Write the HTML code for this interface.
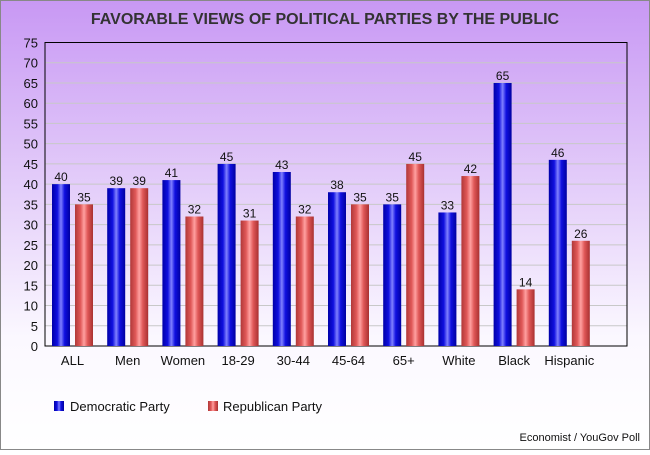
<!DOCTYPE html>
<html><head><meta charset="utf-8"><style>
html,body{margin:0;padding:0}
body{width:650px;height:450px;overflow:hidden;font-family:"Liberation Sans","DejaVu Sans",sans-serif}
</style></head><body>
<svg width="650" height="450" xmlns="http://www.w3.org/2000/svg">
<defs>
<linearGradient id="bg" x1="0" y1="0" x2="0" y2="1">
<stop offset="0" stop-color="#c898f4"/><stop offset="0.45" stop-color="#e6d2fa"/><stop offset="0.75" stop-color="#fbf8ff"/><stop offset="1" stop-color="#ffffff"/>
</linearGradient>
<linearGradient id="gd" x1="0" y1="0" x2="1" y2="0">
<stop offset="0" stop-color="#0000a8"/><stop offset="0.3" stop-color="#1010e0"/><stop offset="0.5" stop-color="#8080ff"/><stop offset="0.7" stop-color="#1010e0"/><stop offset="1" stop-color="#0000a0"/>
</linearGradient>
<linearGradient id="gr" x1="0" y1="0" x2="1" y2="0">
<stop offset="0" stop-color="#b03838"/><stop offset="0.3" stop-color="#e05858"/><stop offset="0.5" stop-color="#ffa0a0"/><stop offset="0.7" stop-color="#e05858"/><stop offset="1" stop-color="#a83030"/>
</linearGradient>
</defs>
<rect x="0.5" y="0.5" width="649" height="449" fill="url(#bg)" stroke="#888"/>
<text x="325" y="24" text-anchor="middle" font-size="16" font-weight="bold" fill="#333">FAVORABLE VIEWS OF POLITICAL PARTIES BY THE PUBLIC</text>
<g id="grid"></g>
<rect x="45" y="42.5" width="582" height="303.5" fill="none" stroke="#000" stroke-width="1"/>
<g id="bars"></g>
<g>
<rect x="54" y="401" width="10" height="10" fill="url(#gd)"/>
<text x="70" y="411" font-size="13" fill="#111">Democratic Party</text>
<rect x="208" y="401" width="10" height="10" fill="url(#gr)"/>
<text x="223" y="411" font-size="13" fill="#111">Republican Party</text>
</g>
<text x="640" y="441" text-anchor="end" font-size="11" fill="#111">Economist / YouGov Poll</text>
</svg>
<script>
const categories=["ALL","Men","Women","18-29","30-44","45-64","65+","White","Black","Hispanic"];
const demValues=[40,39,41,45,43,38,35,33,65,46];
const repValues=[35,39,32,31,32,35,45,42,14,26];
const yTicks=[0,5,10,15,20,25,30,35,40,45,50,55,60,65,70,75];
const NS="http://www.w3.org/2000/svg";
const y=v=>346-v*(303.5/75);
const xc=i=>72.5+55.2*i;
function mk(t,a,p){const e=document.createElementNS(NS,t);for(const k in a)e.setAttribute(k,a[k]);p.appendChild(e);return e;}
const grid=document.getElementById('grid');
yTicks.forEach(t=>{
 if(t>0&&t<75){const l=mk('line',{x1:45,x2:627,y1:y(t),y2:y(t),stroke:'#c8c8c8'},grid);
 
 }
 const tx=mk('text',{x:38,y:y(t)+5,'text-anchor':'end','font-size':13,fill:'#111'},grid);tx.textContent=t;
 
 
});
const bars=document.getElementById('bars');
categories.forEach((c,i)=>{
 const cx=xc(i);
 [[demValues[i],cx-20.5,'url(#gd)','dem'],[repValues[i],cx+2.5,'url(#gr)','rep']].forEach(([v,x,f,s])=>{
  const r=mk('rect',{x:x,y:y(v),width:18,height:346-y(v),fill:f},bars);
  
  
  const t=mk('text',{x:x+9,y:y(v)-3,'text-anchor':'middle','font-size':12,fill:'#111'},bars);t.textContent=v;
  
  
 });
 const lb=mk('text',{x:cx,y:365,'text-anchor':'middle','font-size':13,fill:'#111'},bars);lb.textContent=c;
 
 
});
</script>
</body></html>
